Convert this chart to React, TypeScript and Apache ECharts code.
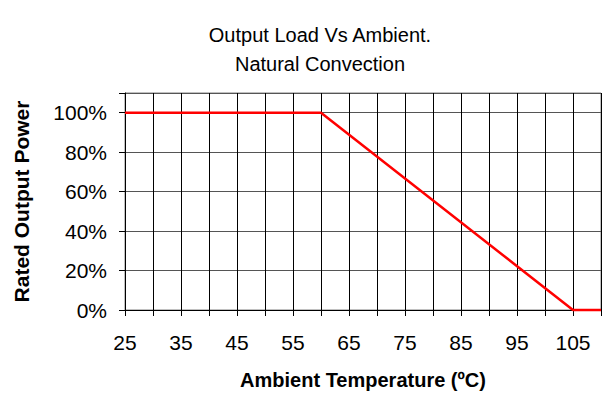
import React, { useEffect, useRef } from "react";
import * as echarts from "echarts";

const titleLines = ["Output Load Vs Ambient.", "Natural Convection"];
const xAxisTitle = "Ambient Temperature (ºC)";
const yAxisTitle = "Rated Output Power";
const temperatures = [25, 60, 105, 110];
const outputPower = [100, 100, 0, 0];

export default function App() {
  const ref = useRef<HTMLDivElement>(null);
  useEffect(() => {
    if (!ref.current) return;
    const chart = echarts.init(ref.current, undefined, { renderer: "svg" });
    const font = "'Liberation Sans', Arial, sans-serif";
    chart.setOption({
      animation: false,
      backgroundColor: "#ffffff",
      title: {
        text: titleLines.join("\n"),
        left: 315,
        textAlign: "center",
        top: 15,
        textStyle: { fontFamily: font, fontSize: 20, fontWeight: "normal", color: "#000", lineHeight: 29 },
      },
      grid: { left: 125, right: 4, top: 93, bottom: 93, show: true, borderColor: "#808080", borderWidth: 1 },
      xAxis: {
        type: "value",
        min: 25,
        max: 110,
        interval: 5,
        name: xAxisTitle,
        nameLocation: "middle",
        nameGap: 60,
        nameTextStyle: { fontFamily: font, fontSize: 20, fontWeight: "bold", color: "#000" },
        axisLine: { show: true, lineStyle: { color: "#000", width: 1 } },
        axisTick: { show: true, length: 6, lineStyle: { color: "#000" } },
        axisLabel: {
          margin: 22,
          fontFamily: font,
          fontSize: 21,
          color: "#000",
          formatter: (v: number) => ((v - 25) % 10 === 0 && v <= 105 ? String(v) : ""),
        },
        splitLine: { show: true, lineStyle: { color: "#000", width: 1 } },
      },
      yAxis: {
        type: "value",
        min: 0,
        max: 110,
        interval: 20,
        name: yAxisTitle,
        nameLocation: "middle",
        nameGap: 93,
        nameTextStyle: { fontFamily: font, fontSize: 21, fontWeight: "bold", color: "#000" },
        axisLine: { show: true, lineStyle: { color: "#000", width: 1 } },
        axisTick: { show: true, length: 6, lineStyle: { color: "#000" } },
        axisLabel: {
          margin: 18,
          fontFamily: font,
          fontSize: 21,
          color: "#000",
          formatter: (v: number) => (v <= 100 ? v + "%" : ""),
        },
        splitLine: { show: true, lineStyle: { color: "#555", width: 1 } },
      },
      series: [
        {
          type: "line",
          data: temperatures.map((t, i) => [t, outputPower[i]]),
          showSymbol: false,
          lineStyle: { color: "#ff0000", width: 2.5 },
          clip: false,
        },
      ],
    });
    return () => chart.dispose();
  }, []);
  return <div ref={ref} style={{ position: "fixed", left: 0, top: 0, width: 605, height: 403 }} />;
}
